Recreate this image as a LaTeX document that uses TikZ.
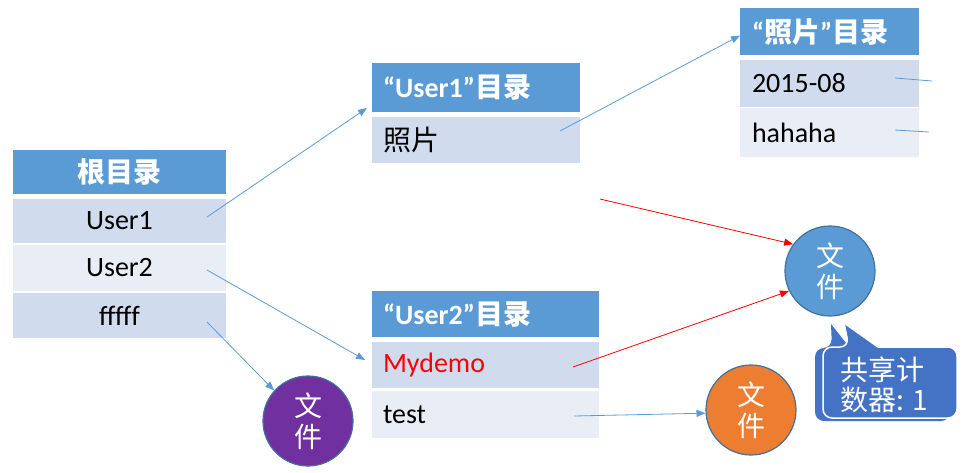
\documentclass[tikz,border=0pt]{standalone}
\usepackage{fontspec}
\setmainfont{Carlito}
\newfontfamily\cjk{Noto Sans CJK SC}
\usetikzlibrary{arrows.meta,calc}
\definecolor{hdr}{HTML}{5B9BD5}
\definecolor{rowA}{HTML}{D0DBEE}
\definecolor{rowB}{HTML}{E9EDF6}
\definecolor{edgec}{HTML}{41719C}
\definecolor{linkc}{HTML}{5B9BD5}
\definecolor{orng}{HTML}{ED7D31}
\definecolor{purp}{HTML}{7030A0}
\definecolor{callc}{HTML}{4472C4}
\begin{document}
\begin{tikzpicture}[x=1pt,y=-1pt,
  cell/.style={anchor=north west, inner sep=0pt, outer sep=0pt, font=\fontsize{28}{32}\selectfont},
  head/.style={cell, fill=hdr, text=white, font=\fontsize{28}{32}\selectfont\bfseries},
  rowa/.style={cell, fill=rowA},
  rowb/.style={cell, fill=rowB},
  lefttext/.style={align=left, inner xsep=11pt},
  file/.style={circle, minimum size=90pt, inner sep=0pt, draw=edgec, line width=1.2pt, text=white, font=\cjk\fontsize{28}{31}\selectfont, align=center},
  link/.style={draw=linkc, line width=0.8pt, -{Triangle[length=9pt,width=7pt]}},
  redlink/.style={draw=red, line width=0.8pt, -{Triangle[length=9pt,width=7pt]}},
  plainlink/.style={draw=linkc, line width=0.8pt},
]
\useasboundingbox (0,0) rectangle (967,472);

% root table
\node[head, minimum width=213pt, minimum height=44pt] (rh) at (13,150) {{\cjk 根目录}};
\node[rowa, minimum width=213pt, minimum height=44pt] (r1) at (13,199) {User1};
\node[rowb, minimum width=213pt, minimum height=46pt] (r2) at (13,245) {User2};
\node[rowa, minimum width=213pt, minimum height=45pt] (r3) at (13,293) {fffff};

% User1 table
\node[head, lefttext, text width=186pt, minimum height=49pt] (u1h) at (372,63) {“User1”{\cjk 目录}};
\node[rowa, lefttext, text width=186pt, minimum height=46pt] (u1r) at (372,117) {{\cjk 照片}};

% User2 table
\node[head, lefttext, text width=205pt, minimum height=46pt] (u2h) at (372,291) {“User2”{\cjk 目录}};
\node[rowa, lefttext, text width=205pt, minimum height=46pt, text=red] (u2r1) at (372,342) {Mydemo};
\node[rowb, lefttext, text width=205pt, minimum height=47pt] (u2r2) at (372,391) {test};

% photo table
\node[head, lefttext, inner xsep=12pt, text width=155pt, minimum height=47pt] (phh) at (740,8) {“{\cjk 照片}”{\cjk 目录}};
\node[rowa, lefttext, inner xsep=12pt, text width=155pt, minimum height=47pt] (phr1) at (740,60) {2015-08};
\node[rowb, lefttext, inner xsep=12pt, text width=155pt, minimum height=49pt] (phr2) at (740,108) {hahaha};

% files
\node[file, fill=purp] (fp) at (308,421) {文\\件};
\node[file, fill=hdr] (fb) at (830,271) {文\\件};
\node[file, fill=orng] (fo) at (751,410) {文\\件};

% connector ends
\coordinate (s1) at (207,217);
\coordinate (s2) at (207,270);
\coordinate (s3) at (207,322);
\coordinate (s4) at (560,131);
\coordinate (s5) at (600,199);
\coordinate (s6) at (573,367);
\coordinate (s7) at (574,416);
\coordinate (s8) at (895,78);
\coordinate (e8) at (932,81);
\coordinate (s9) at (895,130);
\coordinate (e9) at (929,132);

\draw[link] (s1) -- ($(u1h.south west)+(-5,-4)$);
\draw[link] (s2) -- ($(u2r1.west)+(-7,-5)$);
\draw[link] (s3) -- (fp.138);
\draw[link] (s4) -- ($(phh.west)+(0,4)$);
\draw[redlink] (s5) -- (fb.144);
\draw[redlink] (s6) -- (fb.206);
\draw[link] (s7) -- (fo.184);
\draw[plainlink] (s8) -- (e8);
\draw[plainlink] (s9) -- (e9);

% callout
\fill[callc, rounded corners=9pt] (880,348) -- (950,348) -- (950,421) -- (815,421) -- (815,348) -- (832,348) [sharp corners] -- (831,324) -- (850,348) [rounded corners=9pt] -- cycle;
\filldraw[fill=callc, draw=white, line width=1.5pt, rounded corners=9pt] (900,347) -- (957,347) -- (957,418) -- (823,418) -- (823,347) -- (849,347) [sharp corners] -- (844,323) -- (878,347) [rounded corners=9pt] -- cycle;
\node[anchor=west, inner sep=0pt, text=white, align=left, font=\cjk\fontsize{28}{30}\selectfont] (ct) at (840,385) {共享计\\数器: 1};
\end{tikzpicture}
\end{document}
